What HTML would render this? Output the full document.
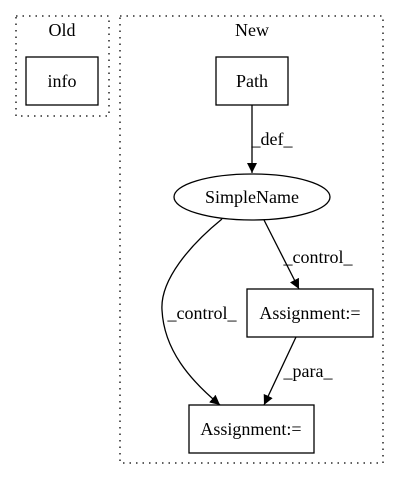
<!DOCTYPE html>
<html><head><style>body{margin:0;background:#fff}svg{display:block}</style></head><body>
<svg width="400" height="480" xmlns="http://www.w3.org/2000/svg" font-family="Liberation Serif, serif" font-size="18">
<defs><marker id="a" markerWidth="10" markerHeight="10" refX="10" refY="5" orient="auto" markerUnits="userSpaceOnUse"><path d="M0,0 L10,5 L0,10 z" fill="#000"/></marker></defs>
<rect x="16" y="16" width="93" height="100" fill="none" stroke="#000" stroke-dasharray="1.5,5" stroke-width="1.3"/>
<rect x="120" y="16" width="263" height="447" fill="none" stroke="#000" stroke-dasharray="1.5,5" stroke-width="1.3"/>
<text x="62" y="36" text-anchor="middle">Old</text>
<text x="252" y="36" text-anchor="middle">New</text>
<g stroke="#000" stroke-width="1.3" fill="none">
<rect x="26" y="57" width="72" height="48"/>
<rect x="216" y="57" width="72" height="48"/>
<ellipse cx="252" cy="197" rx="78" ry="23"/>
<rect x="247" y="289" width="126" height="48"/>
<rect x="189" y="405" width="125" height="48"/>
</g>
<text x="62" y="87" text-anchor="middle">info</text>
<text x="252" y="87" text-anchor="middle">Path</text>
<text x="252" y="203" text-anchor="middle">SimpleName</text>
<text x="310" y="319" text-anchor="middle">Assignment:=</text>
<text x="251" y="435" text-anchor="middle">Assignment:=</text>
<g stroke="#000" stroke-width="1.3" fill="none">
<line x1="252" y1="105" x2="252" y2="173" marker-end="url(#a)"/>
<line x1="264" y1="220" x2="299" y2="289" marker-end="url(#a)"/>
<path d="M222,219 C190,245 160,280 162,310 C164,350 190,380 220,405" marker-end="url(#a)"/>
<line x1="296" y1="337" x2="264" y2="405" marker-end="url(#a)"/>
</g>
<text x="272" y="145" text-anchor="middle">_def_</text>
<text x="318" y="263" text-anchor="middle">_control_</text>
<text x="202" y="319" text-anchor="middle">_control_</text>
<text x="308" y="377" text-anchor="middle">_para_</text>
</svg>
</body></html>
